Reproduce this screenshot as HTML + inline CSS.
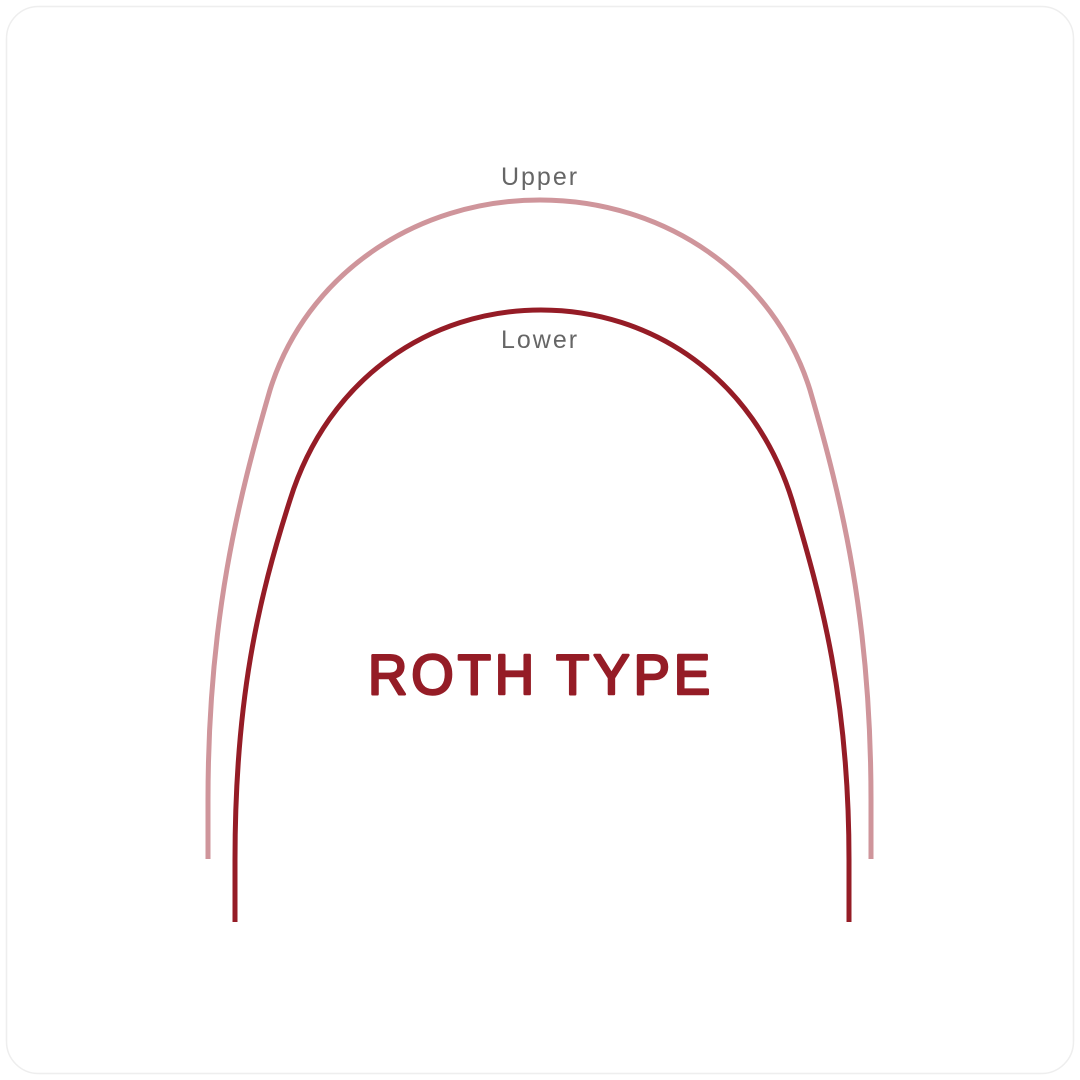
<!DOCTYPE html>
<html><head><style>
html,body{margin:0;padding:0;background:#fff;width:1080px;height:1080px;overflow:hidden}
</style></head><body>
<svg width="1080" height="1080" viewBox="0 0 1080 1080" xmlns="http://www.w3.org/2000/svg">
<rect x="6.5" y="6.5" width="1067" height="1067" rx="32" fill="#fff" stroke="#eeeeee" stroke-width="1.5"/>
<path d="M208,859 L208,800 C208,620 238,500 270,390 C306,275 415,200 540,200 C665,200 774,275 810,390 C842,500 871,620 871,800 L871,859" fill="none" stroke="#cf959b" stroke-width="5"/>
<path d="M235,922 L235,860 C235,700 258,600 290,500 C328,378 430,310 541,310 C652,310 754,378 792,500 C822,600 849,700 849,860 L849,922" fill="none" stroke="#951c26" stroke-width="5"/>
<text x="540" y="185" text-anchor="middle" font-family="Liberation Sans, sans-serif" font-size="25" fill="#666" letter-spacing="2">Upper</text>
<text x="540" y="348" text-anchor="middle" font-family="Liberation Sans, sans-serif" font-size="25" fill="#666" letter-spacing="2">Lower</text>
<text x="541" y="694" text-anchor="middle" font-family="Liberation Sans, sans-serif" font-size="57" fill="#951c26" stroke="#951c26" stroke-width="2.5" stroke-linejoin="round" letter-spacing="4" textLength="346" lengthAdjust="spacingAndGlyphs">ROTH TYPE</text>
</svg>
</body></html>
